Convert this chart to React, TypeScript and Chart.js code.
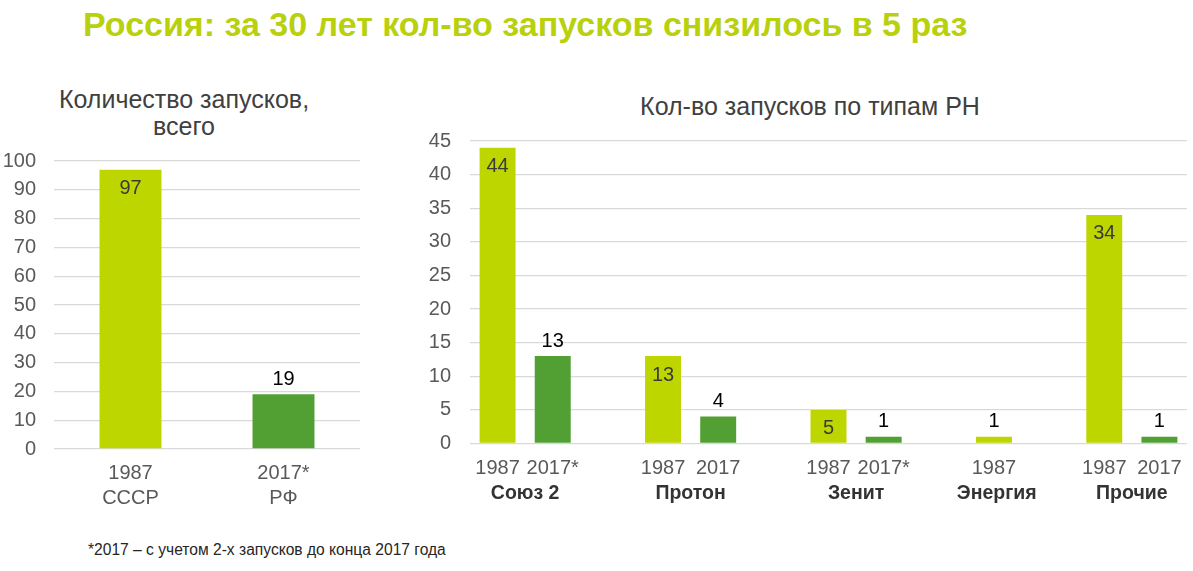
import React, { useEffect, useRef } from 'react';
import { Chart, registerables } from 'chart.js';

Chart.register(...registerables);

// Left chart: total launches
const totalCategories = [['1987', 'СССР'], ['2017*', 'РФ']];
const totalYears = ['1987', '2017*'];
const totalValues = [97, 19];
const totalTicks = { min: 0, max: 100, step: 10 };

// Right chart: launches by rocket type (13 slots, blanks between groups)
const typeYears = ['1987', '2017*', '', '1987', '2017', '', '1987', '2017*', '', '1987', '', '1987', '2017'];
const typeValues = [44, 13, null, 13, 4, null, 5, 1, null, 1, null, 34, 1];
const rocketNames = ['Союз 2', 'Протон', 'Зенит', 'Энергия', 'Прочие'];
const rocketPositions = [0.5, 3.5, 6.5, 9.05, 11.5];
const typeTicks = { min: 0, max: 45, step: 5 };

const LIGHT = '#BED600';
const DARK = '#52A033';
const GRID = '#D9D9D9';
const TICK = '#595959';
const FONT = '"Liberation Sans", Arial, sans-serif';

const barColors = (years: string[]) => years.map(y => (y.startsWith('1987') ? LIGHT : DARK));

// draws the value over each bar: inside for big 1987 bars, above for the rest
const makeValueLabels = (years: string[]) => ({
  id: 'valueLabels',
  afterDatasetsDraw(chart: any) {
    const ctx = chart.ctx;
    const meta = chart.getDatasetMeta(0);
    const data = chart.data.datasets[0].data;
    ctx.save();
    ctx.font = `20px ${FONT}`;
    ctx.textAlign = 'center';
    ctx.textBaseline = 'middle';
    meta.data.forEach((bar: any, i: number) => {
      const v = data[i];
      if (v == null) return;
      const inside = years[i].startsWith('1987') && v >= 5;
      ctx.fillStyle = inside ? '#3A3A3A' : '#000000';
      ctx.fillText(String(v), bar.x, inside ? bar.y + 19 : bar.y - 15);
    });
    ctx.restore();
  },
});

// second level of the category axis: rocket names under their pair of bars
const groupLabels = {
  id: 'groupLabels',
  afterDraw(chart: any) {
    const ctx = chart.ctx;
    const x = chart.scales.x;
    ctx.save();
    ctx.font = `bold 19.5px ${FONT}`;
    ctx.fillStyle = '#333333';
    ctx.textAlign = 'center';
    ctx.textBaseline = 'middle';
    rocketNames.forEach((name, i) => {
      ctx.fillText(name, x.getPixelForValue(rocketPositions[i]), chart.chartArea.bottom + 50);
    });
    ctx.restore();
  },
};

const TotalChart: React.FC = () => {
  const chartRef = useRef<HTMLCanvasElement>(null);
  const chartInstance = useRef<Chart | null>(null);

  useEffect(() => {
    if (!chartRef.current) return;
    const ctx = chartRef.current.getContext('2d');
    if (!ctx) return;

    chartInstance.current = new Chart(ctx, {
      type: 'bar',
      data: {
        labels: totalCategories,
        datasets: [
          {
            data: totalValues,
            backgroundColor: barColors(totalYears),
            categoryPercentage: 1,
            barPercentage: 0.405,
          },
        ],
      },
      options: {
        animation: false,
        responsive: true,
        maintainAspectRatio: false,
        layout: { padding: { top: 14, right: 20, left: 0, bottom: 0 } },
        plugins: { legend: { display: false }, tooltip: { enabled: false } },
        scales: {
          x: {
            grid: { display: false },
            border: { display: false },
            ticks: {
              color: TICK,
              font: { family: FONT, size: 20, lineHeight: 1.25 },
              padding: 4,
              maxRotation: 0,
              autoSkip: false,
            },
            afterFit: (s: any) => { s.height = 71; },
          },
          y: {
            min: totalTicks.min,
            max: totalTicks.max,
            ticks: { stepSize: totalTicks.step, color: TICK, font: { family: FONT, size: 20 }, padding: 18 },
            grid: { color: GRID, drawTicks: false, lineWidth: 1.3 },
            border: { display: false },
            afterFit: (s: any) => { s.width = 54; },
          },
        },
      },
      plugins: [makeValueLabels(totalYears)],
    });

    return () => {
      if (chartInstance.current) {
        chartInstance.current.destroy();
      }
    };
  }, []);

  return (
    <div style={{ position: 'absolute', left: 0, top: 131, width: 380, height: 389 }}>
      <canvas ref={chartRef}></canvas>
    </div>
  );
};

const TypeChart: React.FC = () => {
  const chartRef = useRef<HTMLCanvasElement>(null);
  const chartInstance = useRef<Chart | null>(null);

  useEffect(() => {
    if (!chartRef.current) return;
    const ctx = chartRef.current.getContext('2d');
    if (!ctx) return;

    chartInstance.current = new Chart(ctx, {
      type: 'bar',
      data: {
        labels: typeYears,
        datasets: [
          {
            data: typeValues,
            backgroundColor: barColors(typeYears),
            categoryPercentage: 1,
            barPercentage: 0.652,
          },
        ],
      },
      options: {
        animation: false,
        responsive: true,
        maintainAspectRatio: false,
        layout: { padding: { top: 14.5, right: 6, left: 0, bottom: 0 } },
        plugins: { legend: { display: false }, tooltip: { enabled: false } },
        scales: {
          x: {
            grid: { display: false },
            border: { display: false },
            ticks: {
              color: TICK,
              font: { family: FONT, size: 20 },
              padding: 5,
              maxRotation: 0,
              autoSkip: false,
            },
            afterFit: (s: any) => { s.height = 71.5; },
          },
          y: {
            min: typeTicks.min,
            max: typeTicks.max,
            ticks: { stepSize: typeTicks.step, color: TICK, font: { family: FONT, size: 20 }, padding: 19 },
            grid: { color: GRID, drawTicks: false, lineWidth: 1.3 },
            border: { display: false },
            afterFit: (s: any) => { s.width = 70; },
          },
        },
      },
      plugins: [makeValueLabels(typeYears), groupLabels],
    });

    return () => {
      if (chartInstance.current) {
        chartInstance.current.destroy();
      }
    };
  }, []);

  return (
    <div style={{ position: 'absolute', left: 400, top: 110, width: 793, height: 405 }}>
      <canvas ref={chartRef}></canvas>
    </div>
  );
};

export default function App() {
  return (
    <div style={{ position: 'absolute', left: 0, top: 0, width: 1193, height: 571, background: '#fff', fontFamily: FONT, overflow: 'hidden' }}>
      <div style={{ position: 'absolute', left: 83, top: 5, fontSize: 34, fontWeight: 'bold', color: '#B8D10C', whiteSpace: 'nowrap' }}>
        Россия: за 30 лет кол-во запусков снизилось в 5 раз
      </div>
      <div style={{ position: 'absolute', left: 34, width: 300, top: 86, fontSize: 25, lineHeight: '27px', color: '#404040', textAlign: 'center' }}>
        Количество запусков,
        <br />
        всего
      </div>
      <div style={{ position: 'absolute', left: 560, width: 500, top: 92, fontSize: 25, color: '#404040', textAlign: 'center' }}>
        Кол-во запусков по типам РН
      </div>
      <TotalChart />
      <TypeChart />
      <div style={{ position: 'absolute', left: 88, top: 541, fontSize: 15.6, color: '#262626', whiteSpace: 'nowrap' }}>
        *2017 – с учетом 2-х запусков до конца 2017 года
      </div>
    </div>
  );
}
